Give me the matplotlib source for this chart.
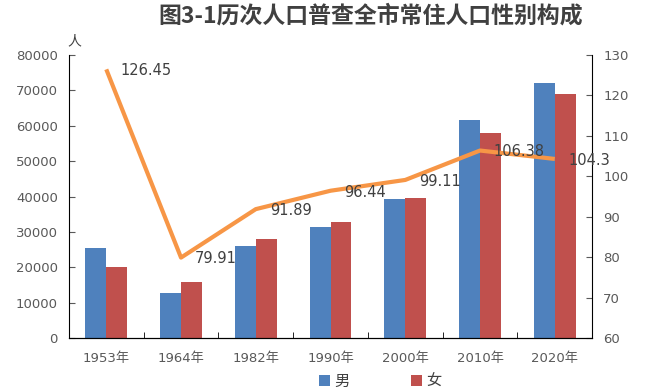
import numpy as np
import matplotlib
matplotlib.use("Agg")
import matplotlib.pyplot as plt

plt.rcParams['font.family'] = ['DejaVu Sans', 'Noto Sans CJK SC']

years = ['1953年', '1964年', '1982年', '1990年', '2000年', '2010年', '2020年']
male = [25400, 12700, 26000, 31500, 39300, 61700, 72000]
female = [20100, 15800, 28100, 32700, 39700, 58000, 69100]
sex_ratio = [126.45, 79.91, 91.89, 96.44, 99.11, 106.38, 104.3]

blue = '#4F81BD'
red = '#C0504D'
orange = '#F79646'
grey = '#595959'

fig = plt.figure(figsize=(6.5, 3.9), dpi=100)
ax = fig.add_axes([0.106, 0.133, 0.805, 0.726])
x = np.arange(len(years))
w = 0.28
ax.bar(x - w / 2, male, w, color=blue, label='男')
ax.bar(x + w / 2, female, w, color=red, label='女')
ax.set_xlim(-0.5, len(years) - 0.5)
ax.set_ylim(0, 80000)
ax.set_yticks(range(0, 80001, 10000))
ax.set_xticks(x)
ax.set_xticklabels(years)
ax.set_xticks(np.arange(-0.5, len(years)), minor=True)
ax.tick_params(axis='x', which='major', length=0, pad=10, labelsize=9.5, colors=grey)
ax.tick_params(axis='x', which='minor', length=4, direction='in')
ax.tick_params(axis='y', length=4, direction='in', labelsize=9.5, colors=grey, pad=8)
ax.spines['top'].set_visible(False)
ax.spines['right'].set_visible(False)

ax2 = ax.twinx()
ax2.plot(x, sex_ratio, color=orange, lw=3, solid_capstyle='butt')
ax2.set_ylim(60, 130)
ax2.set_yticks(range(60, 131, 10))
ax2.tick_params(axis='y', length=4, direction='in', labelsize=9.5, colors=grey, pad=8)
ax2.spines['top'].set_visible(False)
ax2.spines['left'].set_visible(False)
for xi, v in zip(x, sex_ratio):
    ax2.annotate(f'{v:g}', (xi, v), xytext=(10, -1), textcoords='offset points',
                 ha='left', va='center', fontsize=10.5, color='#404040')

fig.text(0.57, 0.958, '图3-1历次人口普查全市常住人口性别构成', ha='center', va='center',
         fontsize=16.5, fontweight='bold', color='#404040', family=['Noto Sans CJK SC'])
fig.text(0.115, 0.895, '人', ha='center', va='center', fontsize=10, color='#404040',
         family=['Noto Sans CJK SC'])

leg = fig.legend(loc='center', bbox_to_anchor=(0.585, 0.022), ncol=2, frameon=False,
                 handlelength=0.7, handleheight=0.7, columnspacing=4, handletextpad=0.3,
                 prop={'family': ['Noto Sans CJK SC'], 'size': 11})
for t in leg.get_texts():
    t.set_color('#404040')

fig.savefig('out.png', dpi=100)
